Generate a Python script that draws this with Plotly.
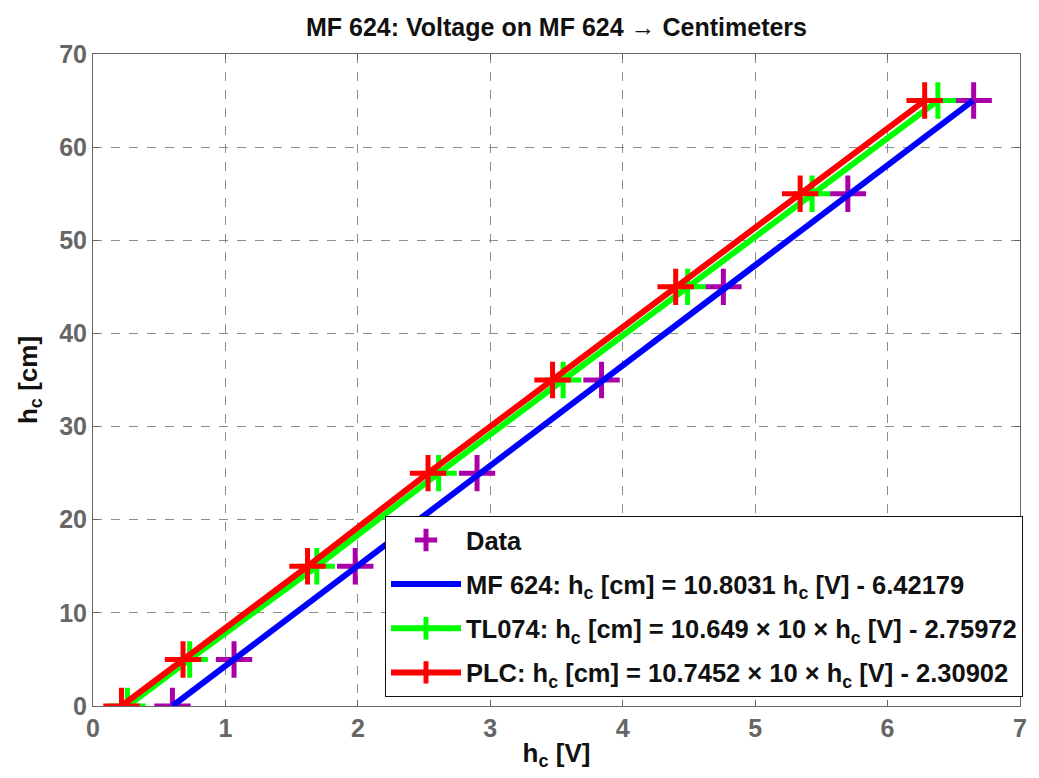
import plotly.graph_objects as go

levels = [0, 5, 15, 25, 35, 45, 55, 65]
data_x = [0.60, 1.065, 1.98, 2.90, 3.84, 4.76, 5.70, 6.65]
mf_line_x = [0.60, 6.645]
mf_line_y = [0, 65]
tl_x = [0.26, 0.73, 1.69, 2.61, 3.55, 4.49, 5.43, 6.38]
plc_x = [0.215, 0.68, 1.62, 2.53, 3.47, 4.40, 5.34, 6.28]

x_ticks = [0, 1, 2, 3, 4, 5, 6, 7]
y_ticks = [0, 10, 20, 30, 40, 50, 60, 70]

FONT = "Liberation Sans, Arial, sans-serif"

fig = go.Figure()
fig.add_trace(go.Scatter(
    x=data_x, y=levels, mode="markers", name="<b>Data</b>", legendgroup="a",
    marker=dict(symbol="cross-thin", size=26, color="#AA00AA",
                line=dict(width=5, color="#AA00AA"))))
fig.add_trace(go.Scatter(
    x=mf_line_x, y=mf_line_y, mode="lines", legendgroup="b",
    name="<b>MF 624: h<sub>c</sub> [cm] = 10.8031 h<sub>c</sub> [V] - 6.42179</b>",
    line=dict(color="#0000FF", width=6)))
fig.add_trace(go.Scatter(
    x=tl_x, y=levels, mode="lines+markers", legendgroup="c",
    name="<b>TL074: h<sub>c</sub> [cm] = 10.649 × 10 × h<sub>c</sub> [V] - 2.75972</b>",
    line=dict(color="#00FF00", width=6),
    marker=dict(symbol="cross-thin", size=26, color="#00FF00",
                line=dict(width=5, color="#00FF00"))))
fig.add_trace(go.Scatter(
    x=plc_x, y=levels, mode="lines+markers", legendgroup="d",
    name="<b>PLC: h<sub>c</sub> [cm] = 10.7452 × 10 × h<sub>c</sub> [V] - 2.30902</b>",
    line=dict(color="#FF0000", width=6),
    marker=dict(symbol="cross-thin", size=26, color="#FF0000",
                line=dict(width=5, color="#FF0000"))))

axis_common = dict(
    showgrid=True, gridcolor="#8c8c8c", griddash="dash", gridwidth=1,
    showline=True, linecolor="#666666", linewidth=1, mirror="ticks",
    ticks="inside", ticklen=6, tickcolor="#666666",
    tickfont=dict(family=FONT, size=25, color="#666666"),
    zeroline=False,
)

fig.update_layout(
    width=1031, height=770,
    paper_bgcolor="white", plot_bgcolor="white",
    margin=dict(l=85, r=16, t=46, b=72),
    title=dict(text="<b>MF 624: Voltage on MF 624 → Centimeters</b>",
               x=0.5, xref="paper", xanchor="center", y=0.975, yanchor="middle",
               font=dict(family=FONT, size=25, color="#111111")),
    xaxis=dict(range=[0, 7], tickvals=x_ticks,
               ticktext=["<b>%d</b>" % v for v in x_ticks],
               title=dict(text="<b>h<sub>c</sub> [V]</b>", standoff=2,
                          font=dict(family=FONT, size=26, color="#111111")),
               **axis_common),
    yaxis=dict(range=[0, 70], tickvals=y_ticks, automargin=True,
               ticktext=["<b>%d</b>" % v for v in y_ticks],
               title=dict(text="<b>h<sub>c</sub> [cm]</b>", standoff=14,
                          font=dict(family=FONT, size=26, color="#111111")),
               **axis_common),
    showlegend=True,
    legend=dict(x=0.315, y=0.014, xanchor="left", yanchor="bottom",
                bgcolor="white", bordercolor="#111111", borderwidth=1,
                font=dict(family=FONT, size=25.5, color="#111111"),
                tracegroupgap=8, itemwidth=70),
)

fig.write_html("out.html")
